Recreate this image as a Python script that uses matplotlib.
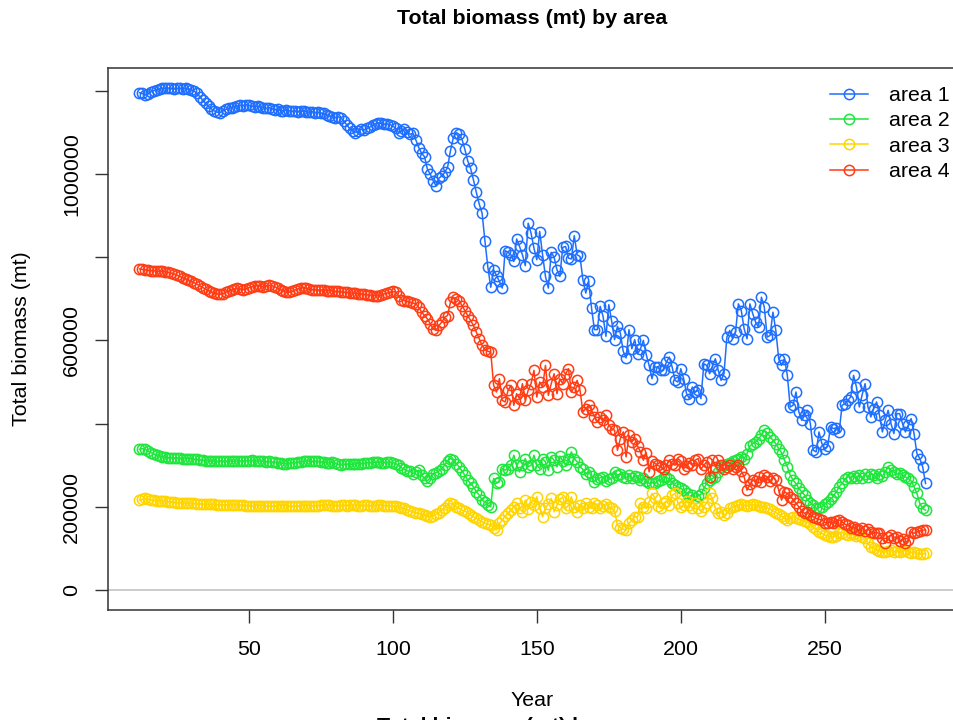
import numpy as np
import matplotlib
matplotlib.use('Agg')
import matplotlib.pyplot as plt

plt.rcParams['font.family'] = ['Liberation Sans', 'DejaVu Sans']

# Year index (x axis)
years = np.arange(12, 286)

# Total biomass by area, in thousands of mt
area1 = [1196, 1194, 1190, 1193, 1198, 1201, 1203, 1205, 1206, 1206, 1207, 1206, 1205, 1206, 1207, 1205, 1206, 1204, 1203, 1200,
         1194, 1186, 1178, 1170, 1163, 1157, 1152, 1149, 1148, 1152,
         1156, 1158, 1160, 1162, 1164, 1166, 1165, 1167, 1166, 1164,
         1162, 1163, 1161, 1160, 1158, 1160, 1157, 1155, 1156, 1153,
         1152, 1154, 1153, 1151, 1152, 1150, 1151, 1152, 1150, 1149,
         1150, 1148, 1149, 1147, 1146, 1142, 1140, 1138, 1136, 1138,
         1135, 1128, 1118, 1110, 1104, 1100, 1103, 1108, 1106, 1110,
         1113, 1118, 1121, 1123, 1122, 1120, 1121, 1119, 1116, 1110,
         1100, 1104, 1108, 1102, 1096, 1098, 1082, 1064, 1050, 1042,
         1012, 1000, 984, 972, 990, 996, 1004, 1016, 1056, 1088,
         1100, 1096, 1084, 1060, 1032, 1014, 986, 956, 928, 906,
         838, 776, 728, 770, 756, 742, 726, 816, 812, 806,
         790, 844, 826, 806, 780, 882, 858, 822, 794, 862,
         806, 754, 726, 812, 800, 770, 754, 824, 826, 798,
         796, 852, 806, 802, 746, 714, 742, 678, 626, 626,
         682, 658, 610, 686, 646, 602, 634, 618, 574, 558,
         626, 580, 602, 568, 580, 600, 566, 540, 508, 536,
         536, 528, 528, 548, 560, 536, 504, 500, 532, 508,
         472, 460, 488, 476, 480, 460, 544, 540, 520, 538,
         556, 528, 504, 520, 608, 624, 604, 620, 688, 672,
         628, 604, 688, 664, 644, 632, 704, 680, 608, 612,
         668, 624, 556, 540, 556, 516, 440, 444, 476, 428,
         408, 420, 432, 400, 336, 332, 380, 352, 340, 346,
         392, 388, 390, 380, 444, 448, 456, 464, 516, 488,
         440, 470, 496, 440, 416, 436, 452, 420, 380, 408,
         432, 400, 376, 424, 424, 400, 380, 396, 412, 376,
         328, 316, 296, 256]

area2 = [338, 340, 339, 334, 330, 327, 324, 322, 320, 319, 318, 318, 317, 318, 317, 316, 316, 316, 315, 315,
         314, 313, 312, 311, 310, 310, 310, 309, 310, 310,
         309, 310, 310, 309, 310, 311, 310, 311, 311, 312,
         311, 310, 310, 309, 308, 309, 308, 307, 306, 305,
         304, 304, 305, 306, 306, 307, 308, 309, 310, 310,
         309, 310, 309, 308, 307, 306, 306, 307, 305, 302,
         300, 302, 303, 302, 302, 303, 304, 304, 305, 306,
         306, 307, 307, 307, 306, 306, 307, 308, 306, 304,
         300, 294, 290, 286, 286, 280, 284, 288, 276, 268,
         262, 270, 280, 282, 286, 292, 300, 310, 316, 312,
         304, 296, 286, 276, 264, 256, 248, 236, 228, 216,
         212, 204, 200, 268, 258, 260, 292, 288, 292, 300,
         324, 300, 284, 300, 316, 296, 300, 324, 300, 292,
         316, 308, 288, 320, 312, 296, 322, 310, 300, 314,
         332, 316, 308, 296, 290, 280, 284, 274, 260, 266,
         270, 272, 262, 266, 268, 284, 276, 280, 272, 270,
         276, 268, 274, 272, 264, 270, 262, 256, 258, 256,
         262, 264, 272, 272, 266, 258, 252, 248, 244, 240,
         232, 224, 228, 222, 226, 230, 244, 256, 264, 268,
         272, 284, 296, 300, 304, 306, 310, 312, 314, 320,
         316, 328, 346, 352, 356, 364, 372, 384, 378, 368,
         360, 352, 340, 330, 312, 296, 276, 264, 256, 244,
         236, 228, 216, 210, 204, 196, 198, 200, 206, 212,
         218, 226, 236, 248, 256, 266, 272, 270, 274, 268,
         276, 270, 278, 272, 280, 276, 270, 278, 274, 284,
         296, 288, 284, 278, 282, 276, 272, 268, 262, 248,
         232, 208, 196, 192]

area3 = [216, 218, 220, 218, 216, 216, 215, 214, 213, 213, 212, 212, 211, 210, 210, 209, 209, 208, 208, 208,
         207, 207, 207, 206, 206, 206, 206, 205, 205, 205,
         205, 205, 204, 204, 204, 204, 204, 203, 203, 203,
         203, 203, 203, 203, 202, 202, 202, 202, 203, 203,
         203, 203, 202, 202, 202, 202, 203, 203, 203, 203,
         203, 203, 203, 204, 204, 204, 204, 203, 203, 203,
         204, 204, 203, 204, 204, 204, 203, 203, 204, 204,
         203, 203, 203, 204, 204, 203, 203, 203, 202, 202,
         200, 198, 196, 193, 190, 188, 186, 184, 182, 180,
         178, 176, 178, 182, 186, 192, 198, 204, 208, 206,
         200, 196, 192, 190, 186, 180, 176, 172, 168, 164,
         160, 158, 156, 150, 144, 160, 168, 178, 184, 192,
         200, 208, 196, 188, 216, 194, 212, 204, 224, 196,
         176, 198, 206, 220, 188, 204, 218, 224, 196, 204,
         224, 200, 188, 204, 196, 210, 200, 196, 210, 204,
         196, 202, 206, 200, 196, 190, 156, 150, 146, 144,
         160, 168, 176, 176, 208, 200, 196, 212, 232, 222,
         202, 196, 208, 214, 204, 228, 232, 210, 200, 204,
         214, 204, 196, 208, 196, 190, 200, 210, 232, 220,
         196, 184, 188, 180, 184, 196, 200, 202, 204, 206,
         204, 202, 204, 206, 204, 202, 200, 200, 198, 194,
         190, 186, 182, 178, 172, 168, 172, 176, 174, 170,
         168, 166, 164, 158, 152, 146, 140, 136, 132, 130,
         128, 128, 130, 136, 138, 134, 132, 136, 134, 130,
         132, 128, 126, 112, 104, 100, 96, 94, 92, 92,
         94, 96, 92, 94, 92, 94, 96, 92, 90, 92,
         88, 86, 86, 88]

area4 = [772, 771, 770, 769, 768, 768, 767, 766, 766, 765, 764, 762, 760, 757, 754, 751, 748, 745, 742, 739,
         735, 731, 727, 724, 720, 716, 713, 712, 711, 712,
         716, 719, 722, 724, 725, 724, 722, 724, 727, 729,
         731, 732, 730, 729, 731, 733, 732, 729, 726, 722,
         719, 717, 716, 718, 721, 724, 726, 727, 725, 723,
         722, 722, 721, 722, 721, 720, 720, 719, 718, 718,
         717, 716, 716, 715, 714, 713, 712, 712, 711, 710,
         709, 708, 708, 707, 709, 712, 714, 716, 718, 716,
         708, 698, 696, 694, 692, 690, 688, 680, 668, 660,
         652, 640, 628, 624, 636, 644, 656, 660, 692, 704,
         700, 696, 684, 672, 660, 648, 636, 620, 604, 588,
         578, 574, 572, 492, 476, 508, 456, 452, 480, 492,
         444, 472, 460, 496, 456, 480, 496, 528, 464, 500,
         488, 540, 468, 496, 520, 472, 508, 496, 520, 532,
         476, 488, 504, 480, 428, 436, 444, 432, 416, 404,
         416, 408, 420, 396, 388, 384, 336, 364, 380, 320,
         372, 356, 364, 346, 332, 312, 330, 284, 310, 304,
         300, 296, 290, 300, 312, 304, 300, 316, 310, 292,
         298, 306, 300, 312, 316, 290, 300, 308, 272, 312,
         296, 312, 300, 290, 296, 300, 292, 296, 300, 286,
         272, 240, 254, 264, 262, 272, 260, 276, 272, 262,
         270, 264, 240, 216, 236, 232, 224, 218, 208, 200,
         190, 184, 188, 180, 176, 172, 170, 168, 162, 160,
         164, 160, 166, 168, 164, 158, 156, 150, 152, 146,
         144, 150, 142, 146, 140, 136, 138, 136, 124, 112,
         128, 132, 126, 128, 118, 122, 112, 120, 140, 136,
         140, 142, 144, 144]

labels = ['area 1', 'area 2', 'area 3', 'area 4']
colors = ['#1E6EFF', '#1EE63C', '#FFD500', '#FF3C14']
series = [area1, area2, area3, area4]

W, H = 954, 720
fig = plt.figure(figsize=(W / 100, H / 100), dpi=100)
# plot region in pixels (right edge falls just outside the image, as in the reference)
left, right, top, bottom = 108, 957, 68, 610
ax = fig.add_axes([left / W, (H - bottom) / H, (right - left) / W, (bottom - top) / H])

for vals, col, lab in zip(series, colors, labels):
    ax.plot(years, np.array(vals) * 1000, '-o', color=col, lw=1.1, ms=7.4,
            mfc='none', mew=1.1, label=lab)

ax.axhline(0, color='#BEBEBE', lw=1.1, zorder=0)

# R-style axis limits (4% padding)
ymax = max(area1) * 1000
span = years[-1] - years[0]
ax.set_xlim(years[0] - 0.04 * span, years[-1] + 0.04 * span)
ax.set_ylim(-0.04 * ymax, ymax * 1.04)

fs = 15.4
ax.set_xticks([50, 100, 150, 200, 250])
yt = [0, 200000, 400000, 600000, 800000, 1000000, 1200000]
ax.set_yticks(yt)
ax.set_yticklabels(['0', '200000', '', '600000', '', '1000000', ''], rotation=90, va='center')

ax.tick_params(axis='both', direction='out', length=9.4, width=1.0, color='#333333',
               labelsize=fs, colors='black')
ax.tick_params(axis='x', pad=12)
ax.tick_params(axis='y', pad=10)
for sp in ax.spines.values():
    sp.set_linewidth(1.1)
    sp.set_color('#333333')

ax.set_xlabel('Year', fontsize=fs)
ax.xaxis.set_label_coords(0.5, -(701 - bottom) / (bottom - top), transform=ax.transAxes)
ax.set_ylabel('Total biomass (mt)', fontsize=fs)
ax.yaxis.set_label_coords(-(left - 22) / (right - left), 0.5)
ax.xaxis.label.set_va('center')
ax.yaxis.label.set_va('center')

fig.text(532 / W, 1 - 18 / H, 'Total biomass (mt) by area', ha='center', va='center',
         fontsize=fs, fontweight='bold')
# title of the next panel, cut by the bottom edge as in the reference
fig.text(512 / W, 1 - 717 / H, 'Total biomass (mt) by area', ha='center', va='top',
         fontsize=fs, fontweight='bold')

leg = ax.legend(loc='upper left', bbox_to_anchor=(830 / W, 1 - 86 / H),
                bbox_transform=fig.transFigure, frameon=False, fontsize=fs,
                handlelength=1.8, handletextpad=0.95, labelspacing=0.3,
                borderpad=0, borderaxespad=0)

fig.savefig('out.png', dpi=100)
